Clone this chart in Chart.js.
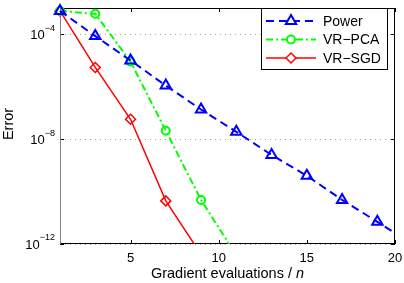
<!DOCTYPE html>
<html lang="en">
<head>
    <meta charset="UTF-8">
    <title>Error vs gradient evaluations</title>
    <script src="https://cdn.jsdelivr.net/npm/chart.js"></script>
    <style>
        html, body { margin: 0; padding: 0; background: #ffffff; }
        #wrap { width: 404px; height: 283px; }
    </style>
</head>
<body>
    <div id="wrap"><canvas id="errChart" width="404" height="283"></canvas></div>

    <script>
        // data (markers on odd x, unmarked ends run off the axes)
        const powerX = [1, 3, 5, 7, 9, 11, 13, 15, 17, 19, 20];
        const powerY = [7.7e-4, 8.5e-5, 1.0e-5, 1.1e-6, 1.35e-7, 1.9e-8, 2.5e-9, 4.0e-10, 4.8e-11, 7.0e-12, 2.6e-12];
        const pcaX = [1, 3, 5, 7, 9, 11];
        const pcaY = [7.7e-4, 6.0e-4, 9.0e-6, 2.1e-8, 4.8e-11, 3.7e-13];
        const sgdX = [1, 3, 5, 7, 9];
        const sgdY = [7.7e-4, 5.4e-6, 5.7e-8, 4.4e-11, 4.0e-13];

        const xTicks = [5, 10, 15, 20];
        const yTicks = [1e-12, 1e-8, 1e-4];
        const yTickExp = ['\u221212', '\u22128', '\u22124'];
        const seriesNames = ['Power', 'VR\u2212PCA', 'VR\u2212SGD'];

        const FONT = '"Liberation Sans", Arial, sans-serif';

        function pts(xs, ys) {
            return xs.map((x, i) => ({ x: x, y: ys[i] }));
        }
        // hide markers on the points that only carry the line past the axes
        function radii(n, r, hideLast) {
            const a = new Array(n).fill(r);
            if (hideLast) a[n - 1] = 0;
            return a;
        }

        // axes box, ticks, labels and legend drawn MATLAB-style
        const matlabAxes = {
            id: 'matlabAxes',
            beforeDatasetsDraw(chart) {
                const ctx = chart.ctx;
                const a = chart.chartArea;
                const xs = chart.scales.x;
                const ys = chart.scales.y;
                ctx.save();
                ctx.lineWidth = 1;
                ctx.strokeStyle = '#000';
                ctx.beginPath();
                ctx.moveTo(a.left, a.top + 0.5); ctx.lineTo(a.right, a.top + 0.5);
                ctx.moveTo(a.right - 0.5, a.top); ctx.lineTo(a.right - 0.5, a.bottom);
                ctx.moveTo(a.left, a.bottom - 0.5); ctx.lineTo(a.right, a.bottom - 0.5);
                // tick marks, inward
                xTicks.forEach(v => {
                    const px = Math.round(xs.getPixelForValue(v)) + 0.5;
                    ctx.moveTo(px, a.bottom); ctx.lineTo(px, a.bottom - 4);
                    ctx.moveTo(px, a.top); ctx.lineTo(px, a.top + 4);
                });
                yTicks.forEach(v => {
                    const py = Math.round(ys.getPixelForValue(v)) + 0.5;
                    ctx.moveTo(a.right, py); ctx.lineTo(a.right - 4, py);
                    ctx.moveTo(a.left, py); ctx.lineTo(a.left + 4, py);
                });
                ctx.stroke();
                ctx.strokeStyle = '#808080';
                ctx.beginPath();
                ctx.moveTo(a.left + 0.5, a.top); ctx.lineTo(a.left + 0.5, a.bottom);
                ctx.stroke();

                // tick labels
                ctx.fillStyle = '#000';
                ctx.font = '13px ' + FONT;
                ctx.textAlign = 'center';
                ctx.textBaseline = 'middle';
                xTicks.forEach(v => {
                    ctx.fillText(String(v), xs.getPixelForValue(v), a.bottom + 14);
                });
                yTicks.forEach((v, i) => {
                    const py = ys.getPixelForValue(v);
                    ctx.font = '9px ' + FONT;
                    const ew = ctx.measureText(yTickExp[i]).width;
                    ctx.textAlign = 'right';
                    ctx.fillText(yTickExp[i], a.left - 5, py - 6);
                    ctx.font = '13px ' + FONT;
                    ctx.fillText('10', a.left - 5 - ew, py + 1);
                });

                // axis titles
                const F = '14.5px ' + FONT;
                ctx.font = F;
                const label = 'Gradient evaluations / ';
                const lw = ctx.measureText(label).width;
                ctx.font = 'italic ' + F;
                const nw = ctx.measureText('n').width;
                const cx = (a.left + a.right) / 2;
                ctx.textAlign = 'left';
                ctx.font = F;
                ctx.fillText(label, cx - (lw + nw) / 2, a.bottom + 30);
                ctx.font = 'italic ' + F;
                ctx.fillText('n', cx - (lw + nw) / 2 + lw, a.bottom + 30);

                ctx.font = F;
                ctx.textAlign = 'center';
                ctx.translate(9, (a.top + a.bottom) / 2 - 2);
                ctx.rotate(-Math.PI / 2);
                ctx.fillText('Error', 0, 0);
                ctx.restore();
            },
            afterDatasetsDraw(chart) {
                const ctx = chart.ctx;
                const box = { x: 261.5, y: 8.5, w: 126, h: 61 };
                ctx.save();
                ctx.fillStyle = '#fff';
                ctx.fillRect(box.x, box.y, box.w, box.h);
                ctx.strokeStyle = '#000';
                ctx.lineWidth = 1;
                ctx.strokeRect(box.x, box.y, box.w, box.h);
                chart.data.datasets.forEach((ds, i) => {
                    const y = 21 + i * 18.5;
                    ctx.strokeStyle = ds.borderColor;
                    ctx.lineWidth = ds.borderWidth;
                    ctx.setLineDash(ds.borderDash || []);
                    ctx.beginPath();
                    ctx.moveTo(266, y); ctx.lineTo(316, y);
                    ctx.stroke();
                    ctx.setLineDash([]);
                    ctx.fillStyle = '#fff';
                    ctx.lineWidth = ds.pointBorderWidth;
                    Chart.helpers.drawPoint(ctx, {
                        pointStyle: ds.pointStyle,
                        rotation: 0,
                        radius: ds.legendRadius,
                        borderWidth: ds.pointBorderWidth
                    }, 291, y);
                    ctx.fillStyle = '#000';
                    ctx.font = '14px ' + FONT;
                    ctx.textAlign = 'left';
                    ctx.textBaseline = 'middle';
                    ctx.fillText(ds.label, 323, y + 1);
                });
                ctx.restore();
            }
        };

        const markerClip = { left: 10, top: 10, right: 0, bottom: 0 };

        const ctx = document.getElementById('errChart').getContext('2d');
        const errChart = new Chart(ctx, {
            type: 'line',
            data: {
                datasets: [{
                    label: seriesNames[0],
                    data: pts(powerX, powerY),
                    borderColor: '#0000ff',
                    backgroundColor: 'rgba(0,0,0,0)',
                    borderWidth: 2,
                    borderDash: [8, 5],
                    clip: markerClip,
                    pointStyle: 'triangle',
                    pointRadius: radii(powerX.length, 6, true),
                    legendRadius: 6,
                    pointBorderWidth: 2,
                    pointBorderColor: '#0000ff',
                    pointBackgroundColor: 'rgba(0,0,0,0)'
                }, {
                    label: seriesNames[1],
                    data: pts(pcaX, pcaY),
                    borderColor: '#00ff00',
                    backgroundColor: 'rgba(0,0,0,0)',
                    borderWidth: 2,
                    borderDash: [7, 3, 2, 3],
                    clip: markerClip,
                    pointStyle: 'circle',
                    pointRadius: radii(pcaX.length, 4, true),
                    legendRadius: 4,
                    pointBorderWidth: 2,
                    pointBorderColor: '#00ff00',
                    pointBackgroundColor: 'rgba(0,0,0,0)'
                }, {
                    label: seriesNames[2],
                    data: pts(sgdX, sgdY),
                    borderColor: '#ff0000',
                    backgroundColor: 'rgba(0,0,0,0)',
                    borderWidth: 1.5,
                    clip: markerClip,
                    pointStyle: 'rectRot',
                    pointRadius: radii(sgdX.length, 5, true),
                    legendRadius: 5,
                    pointBorderWidth: 1.5,
                    pointBorderColor: '#ff0000',
                    pointBackgroundColor: 'rgba(0,0,0,0)'
                }]
            },
            options: {
                responsive: false,
                animation: false,
                layout: { padding: { left: 60, right: 9, top: 1, bottom: 39 } },
                plugins: { legend: { display: false }, tooltip: { enabled: false } },
                elements: { line: { tension: 0 } },
                scales: {
                    x: {
                        type: 'linear',
                        min: 1,
                        max: 20,
                        afterBuildTicks: s => { s.ticks = xTicks.map(v => ({ value: v })); },
                        ticks: { display: false },
                        grid: { display: false, drawTicks: false },
                        border: { display: false }
                    },
                    y: {
                        type: 'logarithmic',
                        min: 1e-12,
                        max: 1e-3,
                        afterBuildTicks: s => { s.ticks = yTicks.map(v => ({ value: v })); },
                        ticks: { display: false },
                        grid: { color: '#a8a8a8', lineWidth: 1, drawTicks: false },
                        border: { display: false, dash: [1, 4] }
                    }
                }
            },
            plugins: [matlabAxes]
        });
    </script>
</body>
</html>
